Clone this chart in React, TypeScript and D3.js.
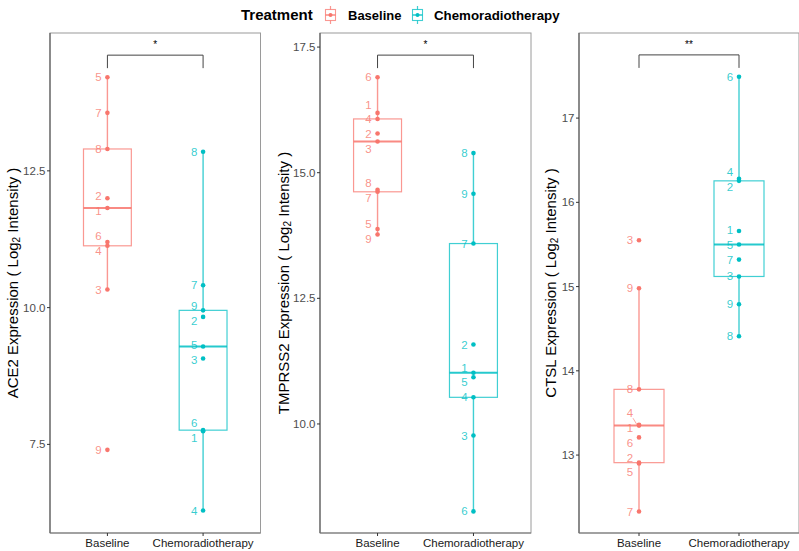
import React from "react";
import * as d3 from "d3";

const groups = ["Baseline", "Chemoradiotherapy"];
const sampleIds = [1, 2, 3, 4, 5, 6, 7, 8, 9];

const ace2Baseline = [11.82, 12.0, 10.33, 11.13, 14.21, 11.2, 13.56, 12.9, 7.4];
const ace2Chemo = [7.74, 9.83, 9.07, 6.29, 9.29, 7.76, 10.41, 12.85, 9.95];
const tmprss2Baseline = [16.19, 15.78, 15.62, 16.07, 13.88, 16.9, 14.62, 14.66, 13.77];
const tmprss2Chemo = [11.02, 11.58, 9.77, 10.53, 10.93, 8.26, 13.59, 15.39, 14.58];
const ctslBaseline = [13.35, 12.91, 15.55, 13.36, 12.9, 13.21, 12.33, 13.78, 14.98];
const ctslChemo = [15.66, 16.255, 15.12, 16.28, 15.5, 17.49, 15.32, 14.41, 14.79];

const geneNames = ["ACE2", "TMPRSS2", "CTSL"];
const yDomains: [number, number][] = [[5.88, 15.02], [7.83, 17.78], [12.075, 18.01]];
const yTicks = [[7.5, 10, 12.5], [10, 12.5, 15, 17.5], [13, 14, 15, 16, 17]];
const tickFormats = [".1f", ".1f", "d"];
const bracketY = [14.615, 17.34, 17.75];
const signif = ["*", "*", "**"];

const colors = ["#F8766D", "#00BFC4"];

const seriesByPanel = [
  [ace2Baseline, ace2Chemo],
  [tmprss2Baseline, tmprss2Chemo],
  [ctslBaseline, ctslChemo],
];

// layout
const panelLeft = [50, 320, 579];
const panelWidth = [210.5, 211, 220];
const panelTop = 33;
const panelBottom = 533;
const titleX = [12, 283, 550];
const FONT = "'Liberation Sans', Arial, Helvetica, sans-serif";

function boxStats(vals: number[]) {
  const s = [...vals].sort((a, b) => a - b);
  const q1 = d3.quantile(s, 0.25)!;
  const med = d3.quantile(s, 0.5)!;
  const q3 = d3.quantile(s, 0.75)!;
  const iqr = q3 - q1;
  const lo = s.filter((v) => v >= q1 - 1.5 * iqr)[0];
  const hi = s.filter((v) => v <= q3 + 1.5 * iqr).slice(-1)[0];
  return { q1, med, q3, lo, hi };
}

function repel(ys: number[], minGap: number) {
  const out = ys.slice();
  for (let it = 0; it < 200; it++) {
    let moved = false;
    for (let i = 0; i < out.length; i++) {
      for (let j = i + 1; j < out.length; j++) {
        const d = out[j] - out[i];
        const ad = Math.abs(d);
        if (ad < minGap - 0.01) {
          const push = (minGap - ad) / 2;
          const sgn = d > 0 ? 1 : d < 0 ? -1 : (ys[j] >= ys[i] ? 1 : -1);
          out[i] -= push * sgn * 0.5;
          out[j] += push * sgn * 0.5;
          moved = true;
        }
      }
    }
    if (!moved) break;
  }
  return out;
}

function Panel({ p }: { p: number }) {
  const left = panelLeft[p];
  const width = panelWidth[p];
  const x = d3.scalePoint<string>().domain(groups).range([left, left + width]).padding(0.6);
  const band = x.step();
  const y = d3.scaleLinear().domain(yDomains[p]).range([panelBottom, panelTop]);
  const fmt = d3.format(tickFormats[p]);
  const gx0 = x(groups[0])!;
  const gx1 = x(groups[1])!;
  const by = y(bracketY[p]);

  return (
    <g>
      <rect x={left} y={panelTop} width={width} height={panelBottom - panelTop} fill="none" stroke="#9a9a9a" strokeWidth={1} />
      <line x1={left} x2={left} y1={panelTop} y2={panelBottom} stroke="#555" strokeWidth={1.1} />
      <line x1={left} x2={left + width} y1={panelBottom} y2={panelBottom} stroke="#777" strokeWidth={1.1} />
      {yTicks[p].map((t) => (
        <g key={t}>
          <line x1={left - 3} x2={left} y1={y(t)} y2={y(t)} stroke="#333" strokeWidth={1} />
          <text x={left - 4.5} y={y(t)} textAnchor="end" dominantBaseline="central" fontSize={11.5} fill="#4d4d4d" fontFamily={FONT}>
            {fmt(t)}
          </text>
        </g>
      ))}
      {groups.map((g) => (
        <g key={g}>
          <line x1={x(g)!} x2={x(g)!} y1={panelBottom} y2={panelBottom + 3} stroke="#333" strokeWidth={1} />
          <text x={x(g)!} y={547} textAnchor="middle" fontSize={11.5} fill="#1a1a1a" fontFamily={FONT}>
            {g}
          </text>
        </g>
      ))}
      <text
        transform={`translate(${titleX[p]},${(panelTop + panelBottom) / 2}) rotate(-90)`}
        textAnchor="middle"
        dominantBaseline="central"
        fontSize={15}
        fill="#000"
        fontFamily={FONT}
      >
        {geneNames[p]} Expression ( Log
        <tspan fontSize={10} dy={4}>2</tspan>
        <tspan dy={-4}> Intensity )</tspan>
      </text>
      {/* bracket */}
      <path d={`M${gx0},${by + 13} L${gx0},${by} L${gx1},${by} L${gx1},${by + 13}`} fill="none" stroke="#444" strokeWidth={1} />
      <text x={(gx0 + gx1) / 2} y={by - 7} textAnchor="middle" fontSize={10} fill="#000" fontFamily={FONT}>
        {signif[p]}
      </text>
      {groups.map((g, gi) => {
        const vals = seriesByPanel[p][gi];
        const st = boxStats(vals);
        const cx = x(g)!;
        const bw = band * 0.5;
        const col = colors[gi];
        const pys = vals.map((v) => y(v));
        const lys = repel(pys, 14.8);
        return (
          <g key={g}>
            <line x1={cx} x2={cx} y1={y(st.hi)} y2={y(st.q3)} stroke={col} strokeOpacity={0.75} strokeWidth={1.4} />
            <line x1={cx} x2={cx} y1={y(st.q1)} y2={y(st.lo)} stroke={col} strokeOpacity={0.75} strokeWidth={1.4} />
            <rect x={cx - bw / 2} y={y(st.q3)} width={bw} height={y(st.q1) - y(st.q3)} fill="none" stroke={col} strokeOpacity={0.75} strokeWidth={1.2} />
            <line x1={cx - bw / 2} x2={cx + bw / 2} y1={y(st.med)} y2={y(st.med)} stroke={col} strokeOpacity={0.85} strokeWidth={2} />
            {vals.map((v, i) => (
              <circle key={i} cx={cx} cy={pys[i]} r={2.3} fill={col} />
            ))}
            {vals.map((v, i) => {
              const dy = lys[i] - pys[i];
              return (
                <g key={"l" + i}>
                  {Math.abs(dy) > 10 && (
                    <line x1={cx - 6} y1={lys[i] + (dy < 0 ? 5 : -5)} x2={cx - 2} y2={pys[i]} stroke={col} strokeOpacity={0.8} strokeWidth={0.8} />
                  )}
                  <text x={cx - 9} y={lys[i]} textAnchor="middle" dominantBaseline="central" fontSize={11.5} fill={col} fillOpacity={0.8} fontFamily={FONT}>
                    {sampleIds[i]}
                  </text>
                </g>
              );
            })}
          </g>
        );
      })}
    </g>
  );
}

function LegendKey({ x0, col }: { x0: number; col: string }) {
  return (
    <g>
      <line x1={x0 + 6.5} x2={x0 + 6.5} y1={6} y2={24} stroke={col} strokeOpacity={0.75} strokeWidth={1.2} />
      <rect x={x0 + 1.5} y={9.5} width={10} height={11} fill="#fff" stroke={col} strokeOpacity={0.75} strokeWidth={1.1} />
      <line x1={x0 + 1.5} x2={x0 + 11.5} y1={15} y2={15} stroke={col} strokeOpacity={0.85} strokeWidth={1.5} />
      <circle cx={x0 + 6.5} cy={15} r={2} fill={col} />
    </g>
  );
}

export default function App() {
  return (
    <svg width={799} height={551} style={{ position: "absolute", left: 0, top: 0, display: "block", background: "#fff" }} fontFamily={FONT}>
      <rect x={0} y={0} width={799} height={551} fill="#fff" />
      <text x={241} y={20} fontSize={15} fontWeight="bold" fill="#000" fontFamily={FONT}>Treatment</text>
      <LegendKey x0={324} col={colors[0]} />
      <text x={348} y={20} fontSize={13} fontWeight="bold" fill="#000" fontFamily={FONT}>{groups[0]}</text>
      <LegendKey x0={411} col={colors[1]} />
      <text x={434} y={20} fontSize={13.3} fontWeight="bold" fill="#000" fontFamily={FONT}>{groups[1]}</text>
      {[0, 1, 2].map((p) => (
        <Panel key={p} p={p} />
      ))}
    </svg>
  );
}
